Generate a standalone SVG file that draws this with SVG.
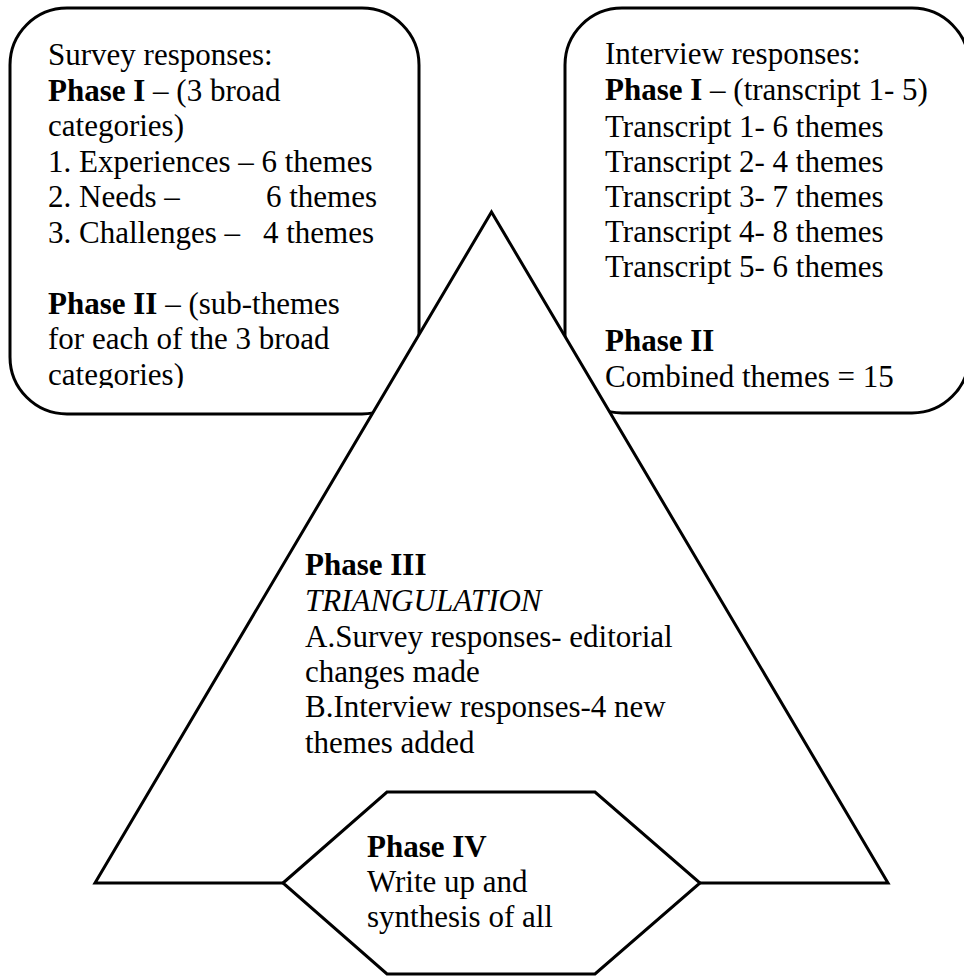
<svg xmlns="http://www.w3.org/2000/svg" width="964" height="976" viewBox="0 0 964 976">
<style>
.shape{fill:#fff;stroke:#000;stroke-width:3;stroke-linejoin:miter}
text{font-family:"Liberation Serif","Times New Roman",serif;font-size:31px;fill:#000}
.b{font-weight:bold}
.i{font-style:italic}
</style>
<defs>
<clipPath id="clipSurvey"><rect x="0" y="0" width="420" height="388"/></clipPath>
</defs>
<rect width="964" height="976" fill="#fff"/>
<g id="survey">
<rect class="shape" x="10" y="8" width="409" height="406" rx="57" ry="57"/>
<g clip-path="url(#clipSurvey)">
<text x="48" y="65">Survey responses:</text>
<text x="48" y="100.5"><tspan class="b">Phase I</tspan> – (3 broad</text>
<text x="48" y="136">categories)</text>
<text x="48" y="171.5">1. Experiences – 6 themes</text>
<text x="48" y="207">2. Needs –<tspan x="266">6 themes</tspan></text>
<text x="48" y="242.5">3. Challenges –<tspan x="263">4 themes</tspan></text>
<text x="48" y="313.5"><tspan class="b">Phase II</tspan> – (sub-themes</text>
<text x="48" y="349">for each of the 3 broad</text>
<text x="48" y="384.5">categories)</text>
</g>
</g>
<g id="interview">
<rect class="shape" x="565" y="8" width="404" height="405" rx="57" ry="57"/>
<text x="605" y="64">Interview responses:</text>
<text x="605" y="100"><tspan class="b">Phase I</tspan> – (transcript 1- 5)</text>
<text x="605" y="136.5">Transcript 1- 6 themes</text>
<text x="605" y="172">Transcript 2- 4 themes</text>
<text x="605" y="207">Transcript 3- 7 themes</text>
<text x="605" y="242">Transcript 4- 8 themes</text>
<text x="605" y="277">Transcript 5- 6 themes</text>
<text x="605" y="351"><tspan class="b">Phase II</tspan></text>
<text x="605" y="386.5">Combined themes = 15</text>
</g>
<g id="triangulation">
<polygon class="shape" points="491.5,212 888,883 95,883"/>
<text x="305" y="575" class="b">Phase III</text>
<text x="305" y="610.5" class="i">TRIANGULATION</text>
<text x="305" y="646.5">A.Survey responses- editorial</text>
<text x="305" y="682">changes made</text>
<text x="305" y="717">B.Interview responses-4 new</text>
<text x="305" y="752.5">themes added</text>
</g>
<g id="synthesis">
<polygon class="shape" points="283,883 387,792 595,792 700,883 595,974 387,974"/>
<text x="367" y="856.5" class="b">Phase IV</text>
<text x="367" y="891.5">Write up and</text>
<text x="367" y="926.5">synthesis of all</text>
</g>
<g id="connectors"/>
</svg>
